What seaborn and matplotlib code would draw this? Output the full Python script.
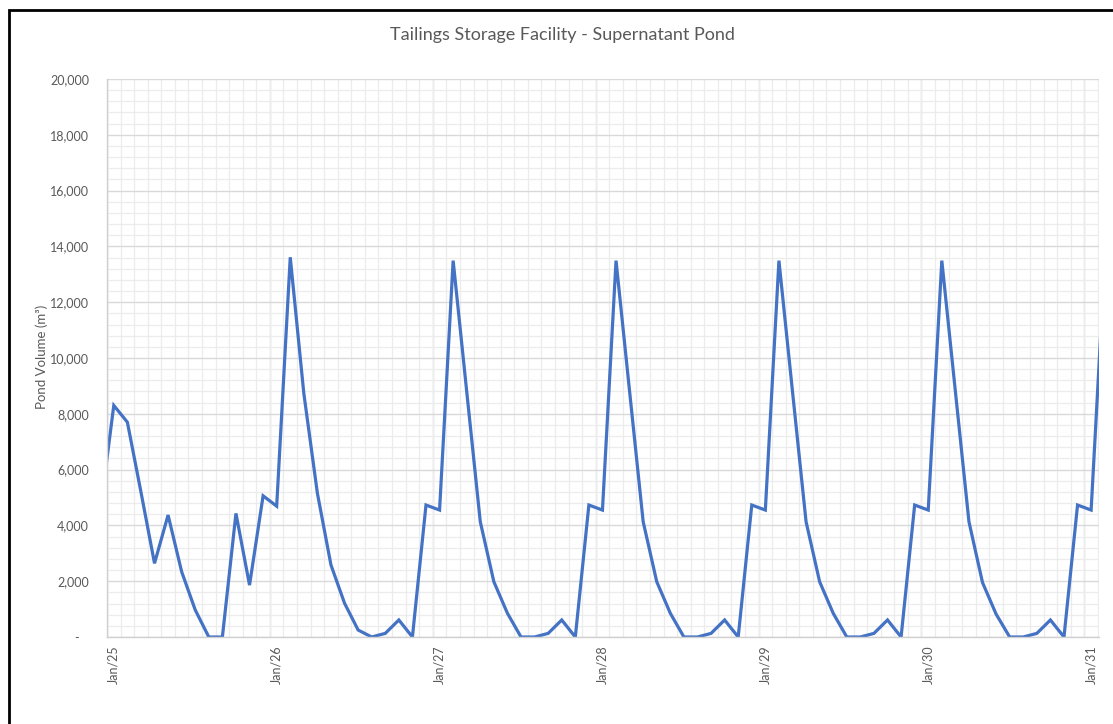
import matplotlib
matplotlib.use("Agg")
import matplotlib.pyplot as plt
import matplotlib.patches as patches
from matplotlib.ticker import FuncFormatter, MultipleLocator
import numpy as np
import pandas as pd
import seaborn as sns

# Monthly supernatant pond volume (m3), Dec/24 through Feb/31
months = (
    ["Dec/24"]
    + [f"{m}/{y}" for y in range(25, 31) for m in
       ["Jan", "Feb", "Mar", "Apr", "May", "Jun",
        "Jul", "Aug", "Sep", "Oct", "Nov", "Dec"]]
    + ["Jan/31", "Feb/31"]
)

vol_2024_dec = [4500]
vol_2025 = [8300, 7700, 5200, 2640, 4370, 2340, 970, 0, 0, 4430, 1860, 5060]
vol_2026 = [4690, 13610, 8730, 5150, 2580, 1210, 250, 0, 130, 610, 0, 4730]
vol_2027 = [4550, 13490, 8800, 4130, 1980, 850, 0, 0, 130, 610, 0, 4730]
vol_2028 = [4550, 13490, 8800, 4130, 1980, 850, 0, 0, 130, 610, 0, 4730]
vol_2029 = [4550, 13490, 8800, 4130, 1980, 850, 0, 0, 130, 610, 0, 4730]
vol_2030 = [4550, 13490, 8800, 4130, 1950, 820, 0, 0, 130, 610, 0, 4730]
vol_2031 = [4550, 13490]

volumes = (vol_2024_dec + vol_2025 + vol_2026 + vol_2027 +
           vol_2028 + vol_2029 + vol_2030 + vol_2031)

# Month index relative to Jan/25
df = pd.DataFrame({
    "month": months,
    "pos": np.arange(len(months)) - 1,
    "volume": volumes,
})

jan_labels = [f"Jan/{y}" for y in range(25, 32)]
jan_pos = df.loc[df["month"].isin(jan_labels), "pos"].to_list()

sns.set_theme(style="white")
plt.rcParams["font.family"] = ["Lato", "DejaVu Sans"]

text_grey = "#595959"
fig = plt.figure(figsize=(11.13, 7.24), dpi=100)
ax = fig.add_axes([107 / 1113, 1 - 637 / 724, 992 / 1113, 558 / 724])

sns.lineplot(data=df, x="pos", y="volume", ax=ax, color="#4472C4",
             linewidth=2.3, solid_joinstyle="miter", clip_on=True)

ax.set_xlim(-0.5, 72.58)
ax.set_ylim(0, 20000)

# Gridlines: light monthly / 400 m3, darker yearly / 2,000 m3
ax.yaxis.set_major_locator(MultipleLocator(2000))
ax.yaxis.set_minor_locator(MultipleLocator(400))
ax.set_xticks(np.arange(-0.5, 72.6, 1.0), minor=True)
ax.set_xticks(jan_pos)
ax.set_xticklabels(jan_labels, rotation=90)
ax.grid(which="minor", color="#ececec", linewidth=0.9)
ax.grid(which="major", axis="y", color="#d9d9d9", linewidth=1.0)
for yb in np.arange(-0.5, 72.6, 12):
    ax.axvline(yb, color="#d9d9d9", linewidth=1.0, zorder=0.5)
ax.set_axisbelow(True)

ax.yaxis.set_major_formatter(
    FuncFormatter(lambda v, _: "-   " if v == 0 else f"{v:,.0f}"))

ax.tick_params(axis="both", which="both", length=0, labelcolor=text_grey,
               labelsize=9)
ax.tick_params(axis="y", pad=13)
ax.tick_params(axis="x", pad=6)

for side in ["top", "right"]:
    ax.spines[side].set_visible(False)
for side in ["left", "bottom"]:
    ax.spines[side].set_color("#d0d0d0")
    ax.spines[side].set_linewidth(1.0)

ax.set_xlabel("")
ax.set_ylabel("Pond Volume (m³)", color=text_grey, fontsize=9.5, va="center")
ax.yaxis.set_label_coords(-0.0655, 0.502)

fig.suptitle("Tailings Storage Facility - Supernatant Pond", x=562 / 1113,
             y=1 - 35 / 724, va="center", fontsize=13, color=text_grey)

# Chart frame
fig.patches.append(patches.Rectangle(
    (9 / 1113, -0.1), 1.2, 1.1 - 10 / 724, transform=fig.transFigure,
    fill=False, edgecolor="black", linewidth=2, clip_on=False))

fig.savefig("out.png", dpi=100)
